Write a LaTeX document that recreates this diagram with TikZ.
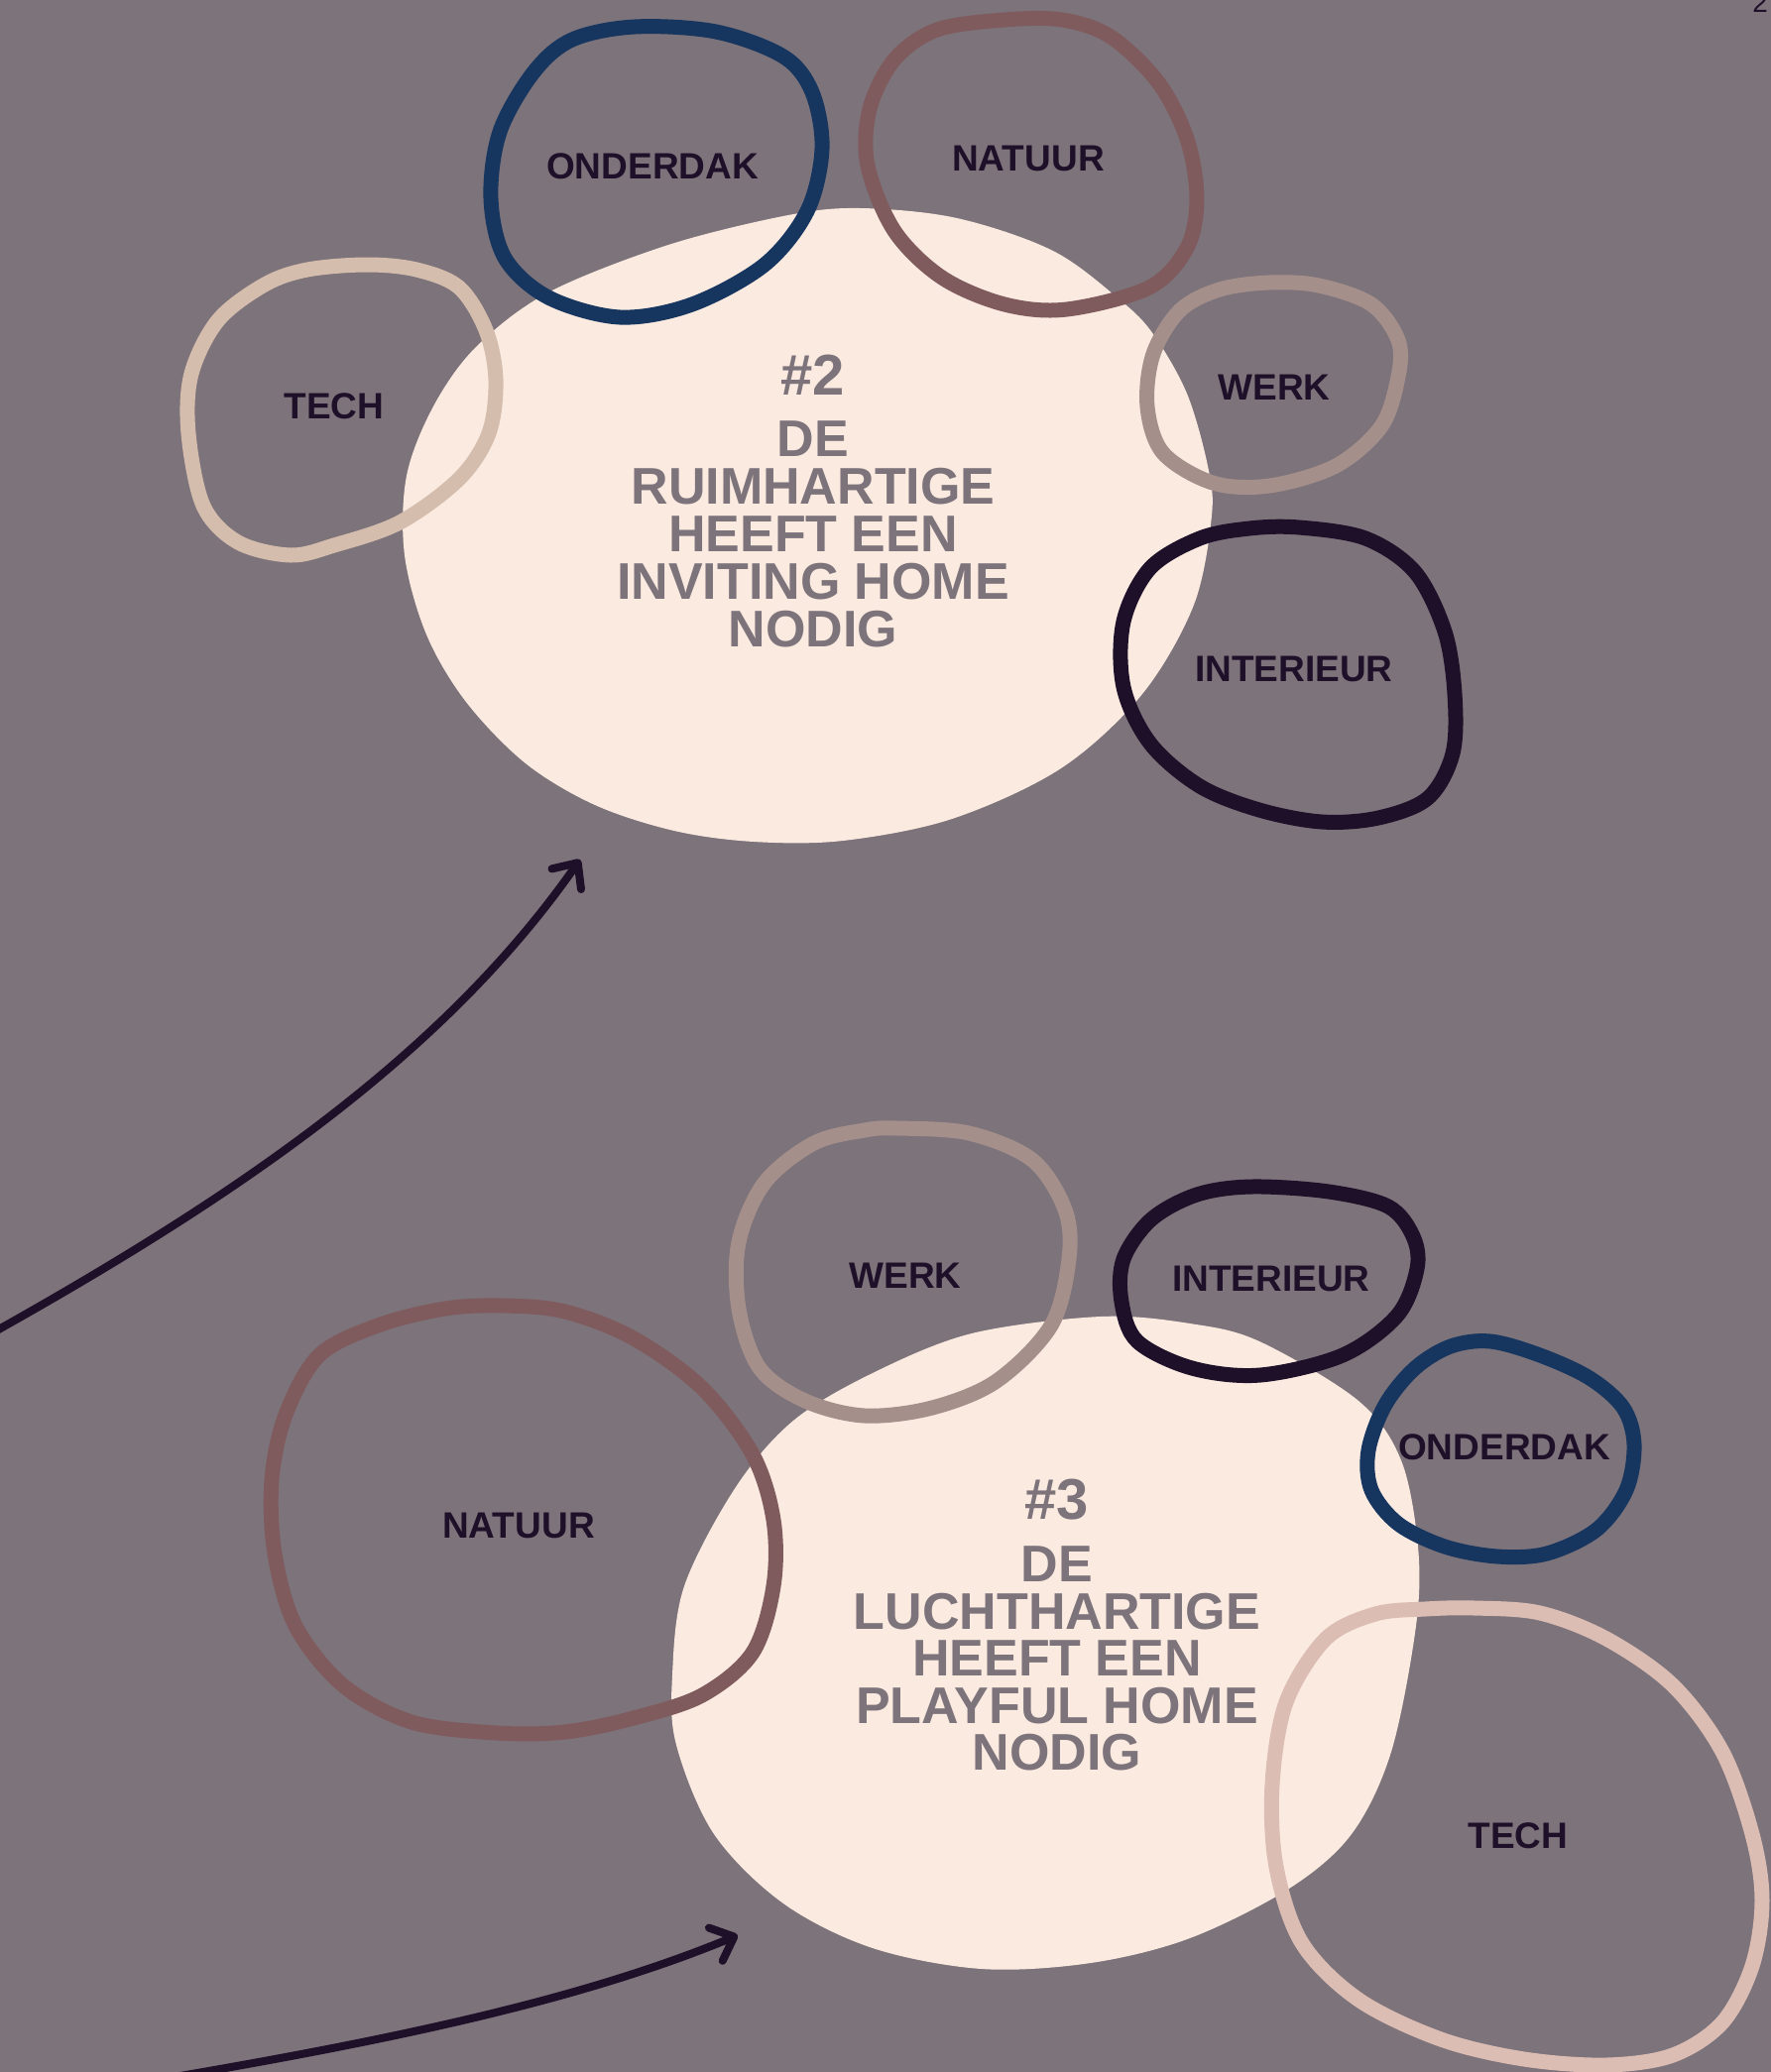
\documentclass[tikz,border=0pt]{standalone}
\usepackage{fontspec}
\setmainfont{Liberation Sans}
\usetikzlibrary{arrows.meta}
\definecolor{cbg}{HTML}{7D737B}
\definecolor{cblob}{HTML}{FAEAE0}
\definecolor{cdark}{HTML}{1E1029}
\definecolor{cblue}{HTML}{17365F}
\definecolor{cnat}{HTML}{7F5B5E}
\definecolor{ctechA}{HTML}{D5BDAD}
\definecolor{cwerk}{HTML}{A48F8A}
\definecolor{ctechB}{HTML}{DCBDB4}
\begin{document}
\begin{tikzpicture}[x=0.5pt,y=-0.5pt,
  ringline/.style={line width=7.5pt},
  lbl/.style={font=\fontsize{18.5}{22}\selectfont\bfseries, text=cdark, inner sep=0pt, anchor=base},
  bigtxt/.style={font=\fontsize{26}{24}\selectfont\bfseries, text=cbg, inner sep=0pt, anchor=base},
  numtxt/.style={font=\fontsize{29}{30}\selectfont\bfseries, text=cbg, inner sep=0pt, anchor=base},
  arr/.style={draw=cdark, line width=4pt, line cap=round, -{Straight Barb[length=10pt,width=18pt,round]}}
]
\useasboundingbox (0,0) rectangle (1786,2090);
\fill[cbg] (0,0) rectangle (1786,2090);
\clip (0,0) rectangle (1786,2090);

% ---------- blob #2 ----------
\fill[cblob] plot[smooth cycle, tension=0.55] coordinates {
 (868,210) (965,220) (1062,253) (1130,303) (1163,337) (1197,397) (1218,470) (1222,520)
 (1204,610) (1152,700) (1070,775) (960,826) (850,848) (760,849) (680,838)
 (600,812) (530,770) (470,708) (430,640) (408,560) (410,480) (437,410) (480,350) (553,295)
 (674,247) (795,217)};

% ---------- blob #3 ----------
\fill[cblob] plot[smooth cycle, tension=0.55] coordinates {
 (1110,1328) (1200,1335) (1270,1353) (1370,1413) (1413,1473) (1430,1560) (1428,1640)
 (1403,1767) (1363,1850) (1300,1905) (1200,1955) (1100,1980) (990,1986) (880,1965)
 (790,1920) (720,1850) (682,1760) (678,1690) (690,1600) (742,1500) (800,1433)
 (880,1385) (980,1345)};

% ---------- rings, top ----------
\draw[ringline, draw=cblue] plot[smooth cycle, tension=0.55] coordinates {
 (640,27) (722,32) (790,57) (819,93) (829,150) (814,213) (771,267) (698,307) (625,320)
 (553,300) (509,260) (495,200) (504,133) (538,73) (577,40)};
\draw[ringline, draw=cnat] plot[smooth cycle, tension=0.55] coordinates {
 (1013,20) (1071,20) (1120,37) (1168,83) (1197,140) (1207,200) (1197,250) (1159,290)
 (1076,312) (1013,307) (950,280) (902,233) (875,167) (877,110) (902,60) (945,30)};
\draw[ringline, draw=ctechA] plot[smooth cycle, tension=0.55] coordinates {
 (370,267) (420,272) (463,290) (490,333) (500,383) (493,437) (463,483) (403,527)
 (337,550) (293,560) (240,547) (205,510) (190,437) (193,377) (220,323) (267,287) (310,272)};
\draw[ringline, draw=cwerk] plot[smooth cycle, tension=0.55] coordinates {
 (1280,285) (1330,288) (1383,307) (1410,343) (1410,380) (1393,430) (1347,470) (1280,490)
 (1223,487) (1173,457) (1157,410) (1163,357) (1190,313) (1230,292)};
\draw[ringline, draw=cdark] plot[smooth cycle, tension=0.55] coordinates {
 (1310,532) (1377,543) (1427,577) (1457,637) (1467,700) (1465,760) (1440,805) (1390,825)
 (1333,829) (1270,817) (1210,793) (1160,750) (1133,693) (1133,627) (1160,573) (1210,543) (1260,533)};

% ---------- rings, bottom ----------
\draw[ringline, draw=cwerk] plot[smooth cycle, tension=0.55] coordinates {
 (904,1138) (977,1143) (1041,1170) (1074,1220) (1078,1270) (1060,1337) (1005,1393)
 (940,1420) (872,1428) (812,1413) (766,1380) (745,1320) (745,1253) (771,1193) (821,1153) (872,1140)};
\draw[ringline, draw=cdark] plot[smooth cycle, tension=0.55] coordinates {
 (1262,1197) (1340,1202) (1400,1217) (1425,1247) (1429,1280) (1409,1327) (1354,1367)
 (1271,1387) (1202,1380) (1147,1353) (1131,1313) (1133,1270) (1161,1230) (1207,1205)};
\draw[ringline, draw=cblue] plot[smooth cycle, tension=0.55] coordinates {
 (1503,1353) (1553,1367) (1603,1390) (1637,1420) (1648,1457) (1640,1503) (1610,1543)
 (1560,1567) (1510,1570) (1457,1560) (1410,1537) (1383,1503) (1380,1463) (1397,1417)
 (1427,1380) (1463,1358)};
\draw[ringline, draw=cnat] plot[smooth cycle, tension=0.55] coordinates {
 (508,1317) (570,1323) (639,1350) (708,1400) (759,1467) (780,1533) (780,1600) (759,1667)
 (708,1710) (639,1733) (570,1747) (501,1748) (415,1737) (346,1700) (298,1640) (277,1567)
 (274,1493) (288,1427) (322,1367) (381,1337) (449,1320)};
\draw[ringline, draw=ctechB] plot[smooth cycle, tension=0.55] coordinates {
 (1487,1622) (1553,1627) (1620,1653) (1687,1700) (1737,1767) (1767,1850) (1777,1917)
 (1767,1983) (1737,2040) (1687,2073) (1620,2083) (1537,2077) (1453,2057) (1370,2017)
 (1313,1960) (1287,1883) (1283,1800) (1297,1717) (1337,1653) (1387,1628) (1437,1623)};

% ---------- labels ----------
\node[lbl] (tOnd) at (658,180) {ONDERDAK};
\node[lbl] (tNat) at (1037,172) {NATUUR};
\node[lbl] (tTech) at (337,422) {TECH};
\node[lbl] (tWerk) at (1285,403) {WERK};
\node[lbl] (tInt) at (1305,687) {INTERIEUR};
\node[lbl] (bWerk) at (913,1299) {WERK};
\node[lbl] (bInt) at (1282,1302) {INTERIEUR};
\node[lbl] (bNat) at (523,1551) {NATUUR};
\node[lbl] (bOnd) at (1517,1472) {ONDERDAK};
\node[lbl] (bTech) at (1531,1864) {TECH};

% ---------- blob texts ----------
\node[numtxt] (n2) at (820,398) {\#2};
\node[bigtxt] (t2a) at (820,460) {DE};
\node[bigtxt] (t2b) at (820,508) {RUIMHARTIGE};
\node[bigtxt] (t2c) at (820,556) {HEEFT EEN};
\node[bigtxt] (t2d) at (820,604) {INVITING HOME};
\node[bigtxt] (t2e) at (820,652) {NODIG};

\node[numtxt] (n3) at (1066,1532) {\#3};
\node[bigtxt] (t3a) at (1066,1595) {DE};
\node[bigtxt] (t3b) at (1066,1643) {LUCHTHARTIGE};
\node[bigtxt] (t3c) at (1066,1690) {HEEFT EEN};
\node[bigtxt] (t3d) at (1066,1738) {PLAYFUL HOME};
\node[bigtxt] (t3e) at (1066,1785) {NODIG};

% ---------- page number fragment ----------
\node[font=\fontsize{14}{16}\selectfont, text=cdark, inner sep=0pt, anchor=base west] (pg) at (1767,12) {2};

% ---------- arrows ----------
\coordinate (a1s) at (-5,1343);
\coordinate (a1e) at (585,867);
\draw[arr] (a1s) .. controls (250,1200) and (450,1060) .. (a1e);
\coordinate (a2s) at (170,2096);
\coordinate (a2e) at (744,1952);
\draw[arr] (a2s) .. controls (380,2060) and (580,2020) .. (a2e);
\end{tikzpicture}
\end{document}
